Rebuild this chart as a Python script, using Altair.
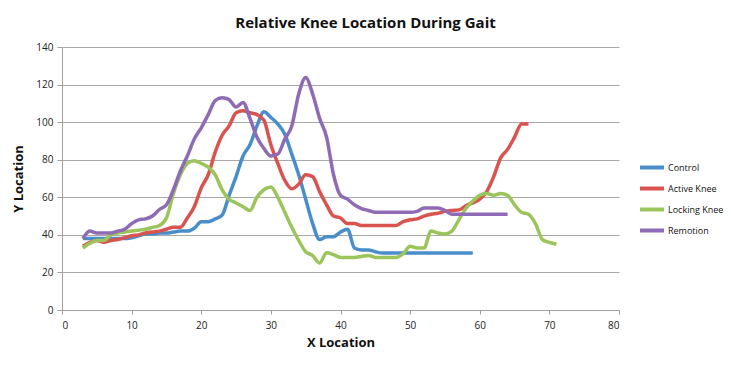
import altair as alt
import pandas as pd

series_names = ["Control", "Active Knee", "Locking Knee", "Remotion"]
series_colors = ["#4A8DCB", "#D9534F", "#9BC45A", "#8E6BB4"]

control_x = list(range(3, 60))
control_y = [38, 38, 38, 38, 38, 38, 38, 38.5, 39.5, 40.5, 40.5, 41, 41, 41.5, 42, 42,
             43.5, 47, 47, 48.5, 50.5, 61, 71, 82, 88, 98, 105.5, 102.5, 99, 93.5, 83,
             72, 59, 46, 37.5, 39, 39, 41.5, 43, 33, 32, 32, 31, 30.3, 30.3, 30.3, 30.3,
             30.3, 30.3, 30.3, 30.3, 30.3, 30.3, 30.3, 30.3, 30.3, 30.3]

active_x = list(range(3, 68))
active_y = [34, 36, 37, 36, 37, 37.5, 38.5, 39.5, 40, 41, 41.5, 42, 43, 44, 44, 49,
            55, 65, 72, 84, 93, 98, 105, 106, 105, 104, 101, 88, 78, 69, 64.5, 67, 72,
            71, 63, 56, 50, 49, 46, 46, 45, 45, 45, 45, 45, 45, 47, 48, 48.5, 50, 51,
            51.5, 52.5, 53, 53.3, 55.5, 57, 59, 63, 71, 81, 85.5, 92, 99, 99]

locking_x = list(range(3, 72))
locking_y = [33, 35.5, 37, 37, 40, 41, 41.5, 42, 42.5, 43, 44, 45, 49, 62, 72, 78, 79.5,
             78, 76, 72, 64, 59, 57, 55, 53, 60, 64, 65.5, 60, 52, 44, 37, 31, 29, 25,
             30.5, 29.5, 28, 28, 28, 28.5, 29, 28, 28, 28, 28, 30, 34, 33, 33, 42, 41,
             40.5, 42, 48, 54, 58, 61, 62, 61, 62, 61, 56, 52, 51, 46, 37.5, 36, 35]

remotion_x = list(range(3, 65))
remotion_y = [38, 42, 41, 41, 41, 42, 43, 46, 48, 48.5, 50, 53.5, 56, 64, 74, 82, 91,
              97, 104, 111.5, 113, 112, 108, 110.5, 102, 92, 86, 82, 83, 91, 98, 115,
              123.7, 115, 102, 92, 72, 61, 59, 56, 54, 53, 52, 52, 52, 52, 52, 52, 52.5,
              54.3, 54.3, 54.3, 53, 51, 51, 51, 51, 51, 51, 51, 51, 51]

x_ticks = [0, 10, 20, 30, 40, 50, 60, 70, 80]
y_ticks = [0, 20, 40, 60, 80, 100, 120, 140]

rows = []
for name, xs, ys in [("Control", control_x, control_y),
                     ("Active Knee", active_x, active_y),
                     ("Locking Knee", locking_x, locking_y),
                     ("Remotion", remotion_x, remotion_y)]:
    for i, (xv, yv) in enumerate(zip(xs, ys)):
        rows.append({"series": name, "x": xv, "y": yv, "order": i})
df = pd.DataFrame(rows)

font = "Open Sans"

chart = alt.Chart(df).mark_line(strokeWidth=3.5, interpolate="monotone").encode(
    x=alt.X("x:Q", scale=alt.Scale(domain=[0, 80], nice=False),
            axis=alt.Axis(values=x_ticks, title="X Location", grid=False,
                          domainColor="#A0A0A0", tickColor="#A0A0A0", tickSize=4,
                          labelFont=font, labelFontSize=10, labelColor="#222222",
                          labelPadding=6, titleFont=font, titleFontSize=13,
                          titleFontWeight="bold", titleColor="#111111", titlePadding=6)),
    y=alt.Y("y:Q", scale=alt.Scale(domain=[0, 140], nice=False),
            axis=alt.Axis(values=y_ticks, title="Y Location", grid=True,
                          gridColor="#A8A8A8", gridWidth=1,
                          domainColor="#A0A0A0", tickColor="#A0A0A0", tickSize=5,
                          labelFont=font, labelFontSize=10, labelColor="#222222",
                          labelPadding=4, titleFont=font, titleFontSize=13,
                          titleFontWeight="bold", titleColor="#111111", titlePadding=10)),
    color=alt.Color("series:N", scale=alt.Scale(domain=series_names, range=series_colors),
                    legend=alt.Legend(title=None, orient="none", legendX=576, legendY=114,
                                      symbolType="stroke", symbolSize=576, symbolStrokeWidth=4,
                                      labelFont=font, labelFontSize=9, labelColor="#111111",
                                      clipHeight=13, rowPadding=8, labelOffset=2)),
    order="order:Q",
).properties(
    width=557, height=263,
    title=alt.TitleParams("Relative Knee Location During Gait", font=font, fontSize=15,
                          fontWeight="bold", color="#111111", anchor="middle", offset=11,
                          dx=25),
    autosize=alt.AutoSizeParams(type="none"),
    padding={"left": 54, "top": 39, "right": 104, "bottom": 47},
).configure_view(stroke=None)

chart.save("out.html", embed_options={"renderer": "svg", "actions": False})
